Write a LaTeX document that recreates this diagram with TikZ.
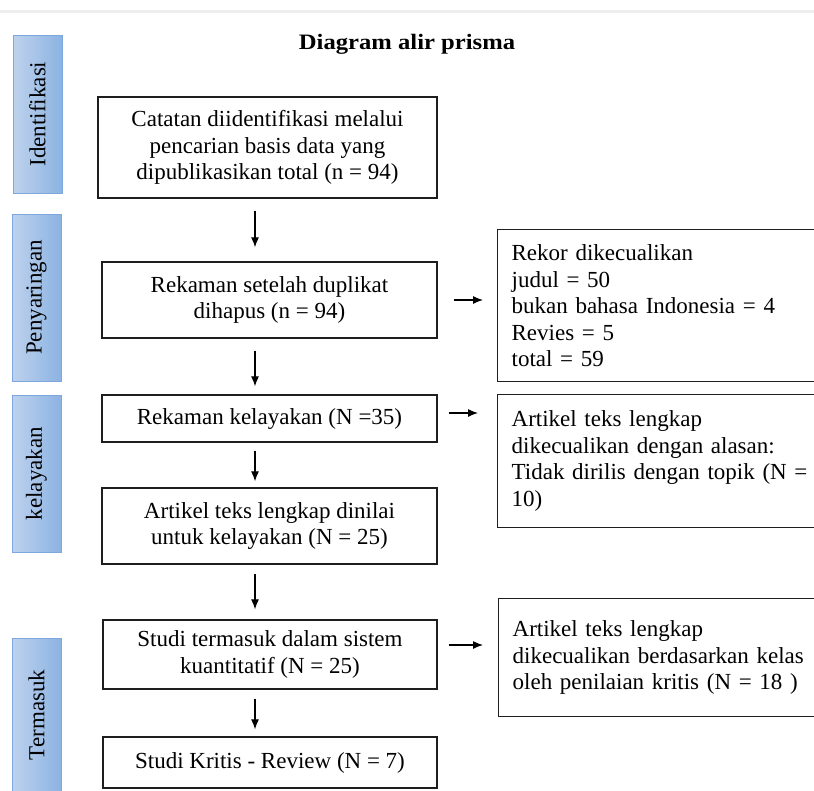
\documentclass[tikz,border=0pt]{standalone}
\usepackage{fontspec}
\setmainfont{Liberation Serif}
\newfontfamily\titlefont{Liberation Serif}[FakeStretch=1.12]
\usetikzlibrary{arrows.meta}
\definecolor{barL}{RGB}{190,210,237}
\definecolor{barR}{RGB}{140,179,226}
\definecolor{barB}{RGB}{125,167,221}
\definecolor{ln}{RGB}{30,30,30}
\definecolor{topline}{RGB}{238,238,238}
\begin{document}
\begin{tikzpicture}[x=1pt,y=-1pt,
  every node/.style={font=\fontsize{23}{26.5}\selectfont, text=black},
  mainbox/.style={draw=ln, line width=1.3pt, align=center, inner sep=0pt},
  sidebox/.style={draw=ln, line width=1.3pt, align=left, text width=320pt, inner xsep=14pt, inner ysep=0pt, anchor=north west},
  phase/.style={draw=barB, line width=1pt, left color=barL, right color=barR, minimum width=49pt, inner sep=0pt},
  phasetext/.style={rotate=90, inner sep=0pt},
  arr/.style={line width=1.2pt, draw=black, -{Latex[length=10pt,width=8pt]}}]
\clip (0,0) rectangle (814,790);
\fill[white] (0,0) rectangle (814,790);
\draw[line width=3pt, topline] (0,11) -- (814,11);

% title
\node[font=\titlefont\bfseries\fontsize{22}{26}\selectfont] (title) at (407,44) {Diagram alir prisma};

% phase bars
\node[phase, minimum height=158pt] (p1) at (37.5,114) {};
\node[phasetext] (p1t) at (p1.center) {Identifikasi};
\node[phase, minimum height=167pt] (p2) at (36.5,297.5) {};
\node[phasetext] (p2t) at (p2.center) {Penyaringan};
\node[phase, minimum height=157pt] (p3) at (36.5,473.5) {};
\node[phasetext] (p3t) at (p3.center) {kelayakan};
\node[phase, minimum height=162pt] (p4) at (36.5,719) {};
\node[phasetext] (p4t) at (36.5,715) {Termasuk};

% main boxes
\node[mainbox, minimum width=339pt, minimum height=101pt] (b1) at (267.5,147.5) {Catatan diidentifikasi melalui\\pencarian basis data yang\\dipublikasikan total (n = 94)};
\node[mainbox, minimum width=335pt, minimum height=76pt] (b2) at (269.5,300) {Rekaman setelah duplikat\\dihapus (n = 94)};
\node[mainbox, minimum width=335pt, minimum height=47pt] (b3) at (269.5,418.5) {Rekaman kelayakan (N =35)};
\node[mainbox, minimum width=335pt, minimum height=76pt] (b4) at (269.5,526) {Artikel teks lengkap dinilai\\untuk kelayakan (N = 25)};
\node[mainbox, minimum width=334pt, minimum height=69pt] (b5) at (270,654.5) {Studi termasuk dalam sistem\\kuantitatif (N = 25)};
\node[mainbox, minimum width=334pt, minimum height=51pt] (b6) at (270,762.5) {Studi Kritis - Review (N = 7)};

% side boxes
\node[sidebox, minimum height=152pt] (r1) at (497,229) {Rekor dikecualikan\\judul = 50\\bukan bahasa Indonesia = 4\\Revies = 5\\total = 59};
\node[sidebox, minimum height=133pt] (r2) at (497,394) {Artikel teks lengkap\\dikecualikan dengan alasan:\\Tidak dirilis dengan topik (N =\\10)};
\node[sidebox, minimum height=118pt] (r3) at (498,598) {Artikel teks lengkap\\dikecualikan berdasarkan kelas\\oleh penilaian kritis (N = 18 )};

% vertical arrows
\coordinate (ax) at (255,0);
\draw[arr, shorten <=12pt, shorten >=14pt] (b1.south -| ax) -- (b2.north -| ax);
\draw[arr, shorten <=12pt, shorten >=8pt] (b2.south -| ax) -- (b3.north -| ax);
\draw[arr, shorten <=8pt, shorten >=6pt] (b3.south -| ax) -- (b4.north -| ax);
\draw[arr, shorten <=9pt, shorten >=10pt] (b4.south -| ax) -- (b5.north -| ax);
\draw[arr, shorten <=9pt, shorten >=7pt] (b5.south -| ax) -- (b6.north -| ax);

% horizontal arrows
\draw[arr, shorten <=16pt, shorten >=14pt] (b2.east) -- (b2.east -| r1.west);
\draw[arr, shorten <=11pt, shorten >=19pt] ([yshift=5.5pt]b3.east) -- ([yshift=5.5pt]b3.east -| r2.west);
\draw[arr, shorten <=11pt, shorten >=15pt] ([yshift=9.5pt]b5.east) -- ([yshift=9.5pt]b5.east -| r3.west);
\end{tikzpicture}
\end{document}
